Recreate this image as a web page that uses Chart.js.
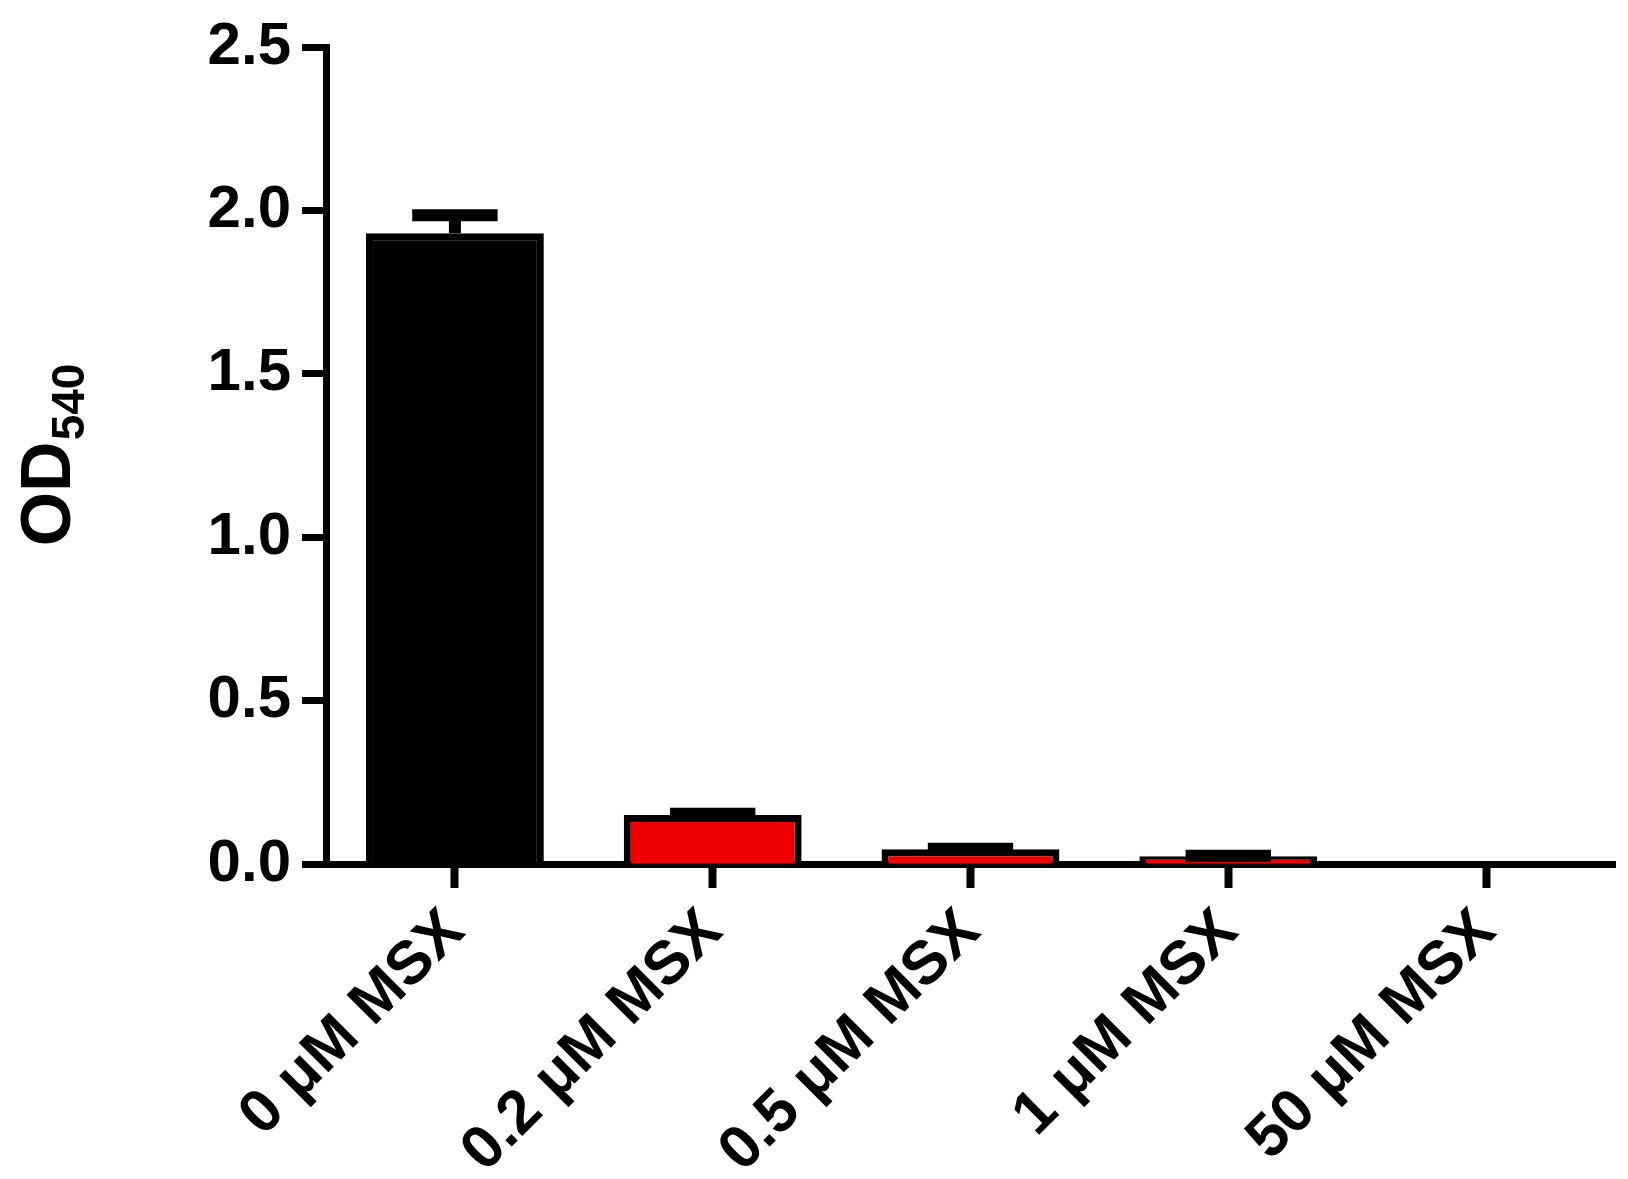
<!DOCTYPE html>
<html>
<head>
<meta charset="utf-8">
<script src="https://cdn.jsdelivr.net/npm/chart.js@4"></script>
<style>
  html, body { margin: 0; padding: 0; background: #fff; }
  #wrap { width: 1628px; height: 1179px; }
</style>
</head>
<body>
<div id="wrap"><canvas id="odChart"></canvas></div>
<script>
// ------------------------- DATA -------------------------------------
var categories = ['0 \u03bcM MSX', '0.2 \u03bcM MSX', '0.5 \u03bcM MSX', '1 \u03bcM MSX', '50 \u03bcM MSX'];
var meanOD = [1.93, 0.15, 0.045, 0.024, 0.0];
var errOD = [0.055, 0.004, 0.002, 0.001, 0.0];   // upper SEM only
var barColors = ['#000000', '#ee0000', '#ee0000', '#ee0000', '#ee0000'];
var yTickValues = [0, 0.5, 1.0, 1.5, 2.0, 2.5];
var yTitleMain = 'OD';
var yTitleSub = '540';

var fontFamily = '"Liberation Sans", Arial, Helvetica, sans-serif';

// ------------------------- PLUGINS -------------------------------------

// draws the upper error bar (stem + cap) on each bar
var errorBars = {
  id: 'errorBars',
  afterDatasetsDraw: function(chart) {
    var ctx = chart.ctx;
    var yScale = chart.scales.y;
    var meta = chart.getDatasetMeta(0);
    ctx.save();
    ctx.strokeStyle = '#000';
    ctx.lineWidth = 12;
    ctx.lineCap = 'butt';
    meta.data.forEach(function(bar, i) {
      if (!errOD[i]) return;
      var top = yScale.getPixelForValue(meanOD[i] + errOD[i]);
      var half = bar.width * 0.24;
      ctx.beginPath();
      ctx.moveTo(bar.x, bar.y);
      ctx.lineTo(bar.x, top);
      ctx.moveTo(bar.x - half, top);
      ctx.lineTo(bar.x + half, top);
      ctx.stroke();
    });
    ctx.restore();
  }
};

// y title with a subscript, Chart.js title can't do that
var yTitle = {
  id: 'yTitle',
  afterDraw: function(chart) {
    var ctx = chart.ctx;
    var area = chart.chartArea;
    var mainFont = 'bold 70px ' + fontFamily;
    var subFont = 'bold 46px ' + fontFamily;
    ctx.save();
    ctx.font = mainFont;
    var w1 = ctx.measureText(yTitleMain).width;
    ctx.font = subFont;
    var w2 = ctx.measureText(yTitleSub).width;
    ctx.translate(70, (area.top + area.bottom) / 2);
    ctx.rotate(-Math.PI / 2);
    ctx.fillStyle = '#000';
    ctx.textBaseline = 'alphabetic';
    ctx.textAlign = 'left';
    var start = -(w1 + w2) / 2;
    ctx.font = mainFont;
    ctx.fillText(yTitleMain, start, 0);
    ctx.font = subFont;
    ctx.fillText(yTitleSub, start + w1 + 1, 14);
    ctx.restore();
  }
};

// ------------------------- CHART -------------------------------------
var chart = new Chart(document.getElementById('odChart'), {
  type: 'bar',
  data: {
    labels: categories,
    datasets: [{
      data: meanOD,
      backgroundColor: barColors,
      borderColor: '#000',
      borderWidth: 7,
      barPercentage: 0.69,
      categoryPercentage: 1.0
    }]
  },
  options: {
    responsive: true,
    maintainAspectRatio: false,
    animation: false,
    layout: { padding: { top: 46, right: 13, left: 0, bottom: 0 } },
    plugins: {
      legend: { display: false },
      tooltip: { enabled: false }
    },
    scales: {
      x: {
        offset: true,
        grid: {
          offset: false,
          drawOnChartArea: false,
          drawTicks: true,
          tickLength: 24,
          tickWidth: 8,
          tickColor: '#000'
        },
        border: { display: true, color: '#000', width: 7 },
        ticks: {
          color: '#000',
          font: { family: fontFamily, size: 61, weight: 'bold' },
          minRotation: 45,
          maxRotation: 45,
          padding: 8,
          autoSkip: false
        },
        afterFit: function(scale) { scale.height = 315; }
      },
      y: {
        min: 0,
        max: 2.5,
        afterBuildTicks: function(scale) {
          scale.ticks = yTickValues.map(function(v) { return { value: v }; });
        },
        grid: {
          drawOnChartArea: false,
          drawTicks: true,
          tickLength: 24,
          tickWidth: 7,
          tickColor: '#000'
        },
        border: { display: true, color: '#000', width: 7 },
        ticks: {
          color: '#000',
          font: { family: fontFamily, size: 60, weight: 'bold' },
          padding: 11,
          callback: function(v) { return Number(v).toFixed(1); }
        },
        afterFit: function(scale) { scale.width = 326; }
      }
    }
  },
  plugins: [errorBars, yTitle]
});
</script>
</body>
</html>
